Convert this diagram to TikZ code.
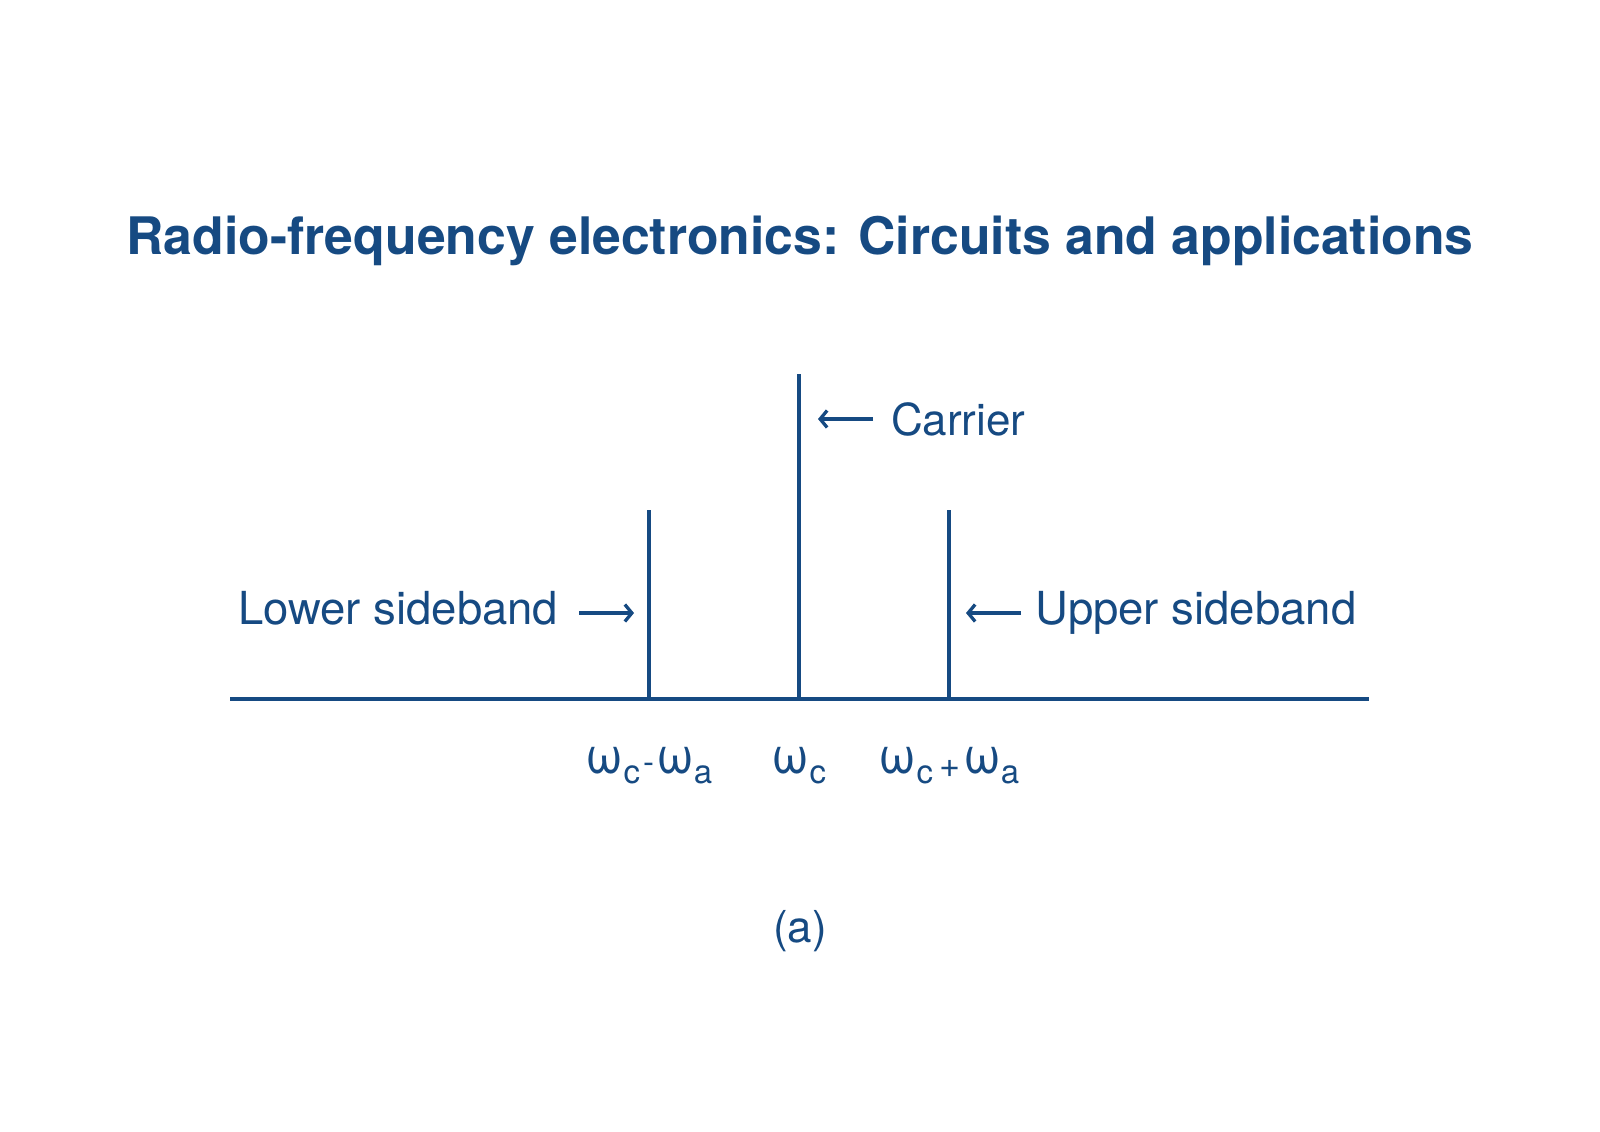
\documentclass[tikz,border=0pt]{standalone}
\usepackage{fontspec}
\setmainfont{TeX Gyre Heros}
\usetikzlibrary{arrows.meta}
\definecolor{ink}{RGB}{22,74,130}
\newcommand\fs[1]{\fontsize{#1bp}{#1bp}\selectfont}
\newcommand\subc[1]{\raisebox{-10bp}{\fs{33}#1}}
\begin{document}
\begin{tikzpicture}[x=1bp,y=-1bp,
  every node/.style={inner sep=0pt,outer sep=0pt,text=ink},
  lbl/.style={font=\fs{45.5}},
  tick/.style={font=\fs{50},anchor=base},
  spike/.style={draw=ink,line width=3.3bp},
  pointer/.style={draw=ink,line width=3.3bp,-{Straight Barb[length=7bp,width=17bp,line width=3.3bp]}}]
\useasboundingbox (0,0) rectangle (1600,1131);
\node[font=\bfseries\fs{51.7},anchor=base] (title) at (800,254) {Radio-frequency electronics: Circuits and applications};
% axis
\coordinate (axL) at (230,699);
\coordinate (axR) at (1369,699);
\draw[spike] (axL) -- (axR);
% spikes
\coordinate (lb) at (649,699); \coordinate (lt) at (649,510);
\coordinate (cb) at (799,699); \coordinate (ct) at (799,374);
\coordinate (ub) at (949,699); \coordinate (ut) at (949,510);
\draw[spike] (lb) -- (lt);
\draw[spike] (cb) -- (ct);
\draw[spike] (ub) -- (ut);
% labels
\node[lbl,anchor=base west,font=\fs{44}] (carrier) at (891,435) {Carrier};
\node[lbl,anchor=base west] (lower) at (238,624) {Lower sideband};
\node[lbl,anchor=base west] (upper) at (1035,624) {Upper sideband};
\coordinate (ca1) at (873,419); \coordinate (ca2) at (818,419);
\coordinate (la1) at (579,613); \coordinate (la2) at (634,613);
\coordinate (ua1) at (1021,613); \coordinate (ua2) at (966,613);
\draw[pointer] (ca1) -- (ca2);
\draw[pointer] (la1) -- (la2);
\draw[pointer] (ua1) -- (ua2);
% tick labels
\node[tick] (tl) at (649,773) {ω\subc{c}\kern3bp{\fs{33}-}\kern2bp ω\subc{a}};
\node[tick] (tc) at (799,773) {ω\subc{c}};
\node[tick] (tr) at (949,773) {ω\subc{c}\kern6bp\raisebox{-4bp}{\fs{36}+}\kern3bp ω\subc{a}};
\node[lbl,anchor=base,font=\fs{44}] (cap) at (800,942) {(a)};
\end{tikzpicture}
\end{document}
